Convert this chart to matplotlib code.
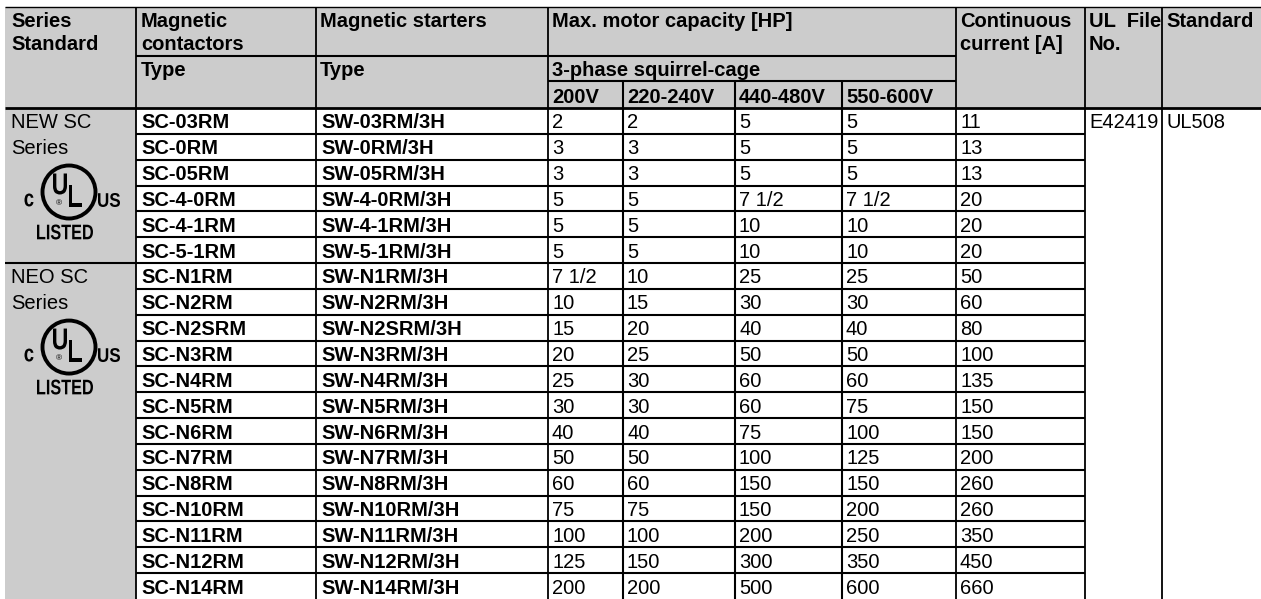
import matplotlib.pyplot as plt
from matplotlib.patches import Rectangle, Circle, PathPatch
from matplotlib.textpath import TextPath
from matplotlib.font_manager import FontProperties
from matplotlib.transforms import Affine2D

# Table data
contactors = ["SC-03RM", "SC-0RM", "SC-05RM", "SC-4-0RM", "SC-4-1RM", "SC-5-1RM",
              "SC-N1RM", "SC-N2RM", "SC-N2SRM", "SC-N3RM", "SC-N4RM", "SC-N5RM",
              "SC-N6RM", "SC-N7RM", "SC-N8RM", "SC-N10RM", "SC-N11RM", "SC-N12RM", "SC-N14RM"]
starters = ["SW-03RM/3H", "SW-0RM/3H", "SW-05RM/3H", "SW-4-0RM/3H", "SW-4-1RM/3H", "SW-5-1RM/3H",
            "SW-N1RM/3H", "SW-N2RM/3H", "SW-N2SRM/3H", "SW-N3RM/3H", "SW-N4RM/3H", "SW-N5RM/3H",
            "SW-N6RM/3H", "SW-N7RM/3H", "SW-N8RM/3H", "SW-N10RM/3H", "SW-N11RM/3H", "SW-N12RM/3H",
            "SW-N14RM/3H"]
hp_200 = ["2", "3", "3", "5", "5", "5", "7 1/2", "10", "15", "20", "25", "30", "40", "50", "60",
          "75", "100", "125", "200"]
hp_220 = ["2", "3", "3", "5", "5", "5", "10", "15", "20", "25", "30", "30", "40", "50", "60",
          "75", "100", "150", "200"]
hp_440 = ["5", "5", "5", "7 1/2", "10", "10", "25", "30", "40", "50", "60", "60", "75", "100",
          "150", "150", "200", "300", "500"]
hp_550 = ["5", "5", "5", "7 1/2", "10", "10", "25", "30", "40", "50", "60", "75", "100", "125",
          "150", "200", "250", "350", "600"]
current = ["11", "13", "13", "20", "20", "20", "50", "60", "80", "100", "135", "150", "150",
           "200", "260", "260", "350", "450", "660"]
series = [("NEW SC", "Series", 0), ("NEO SC", "Series", 6)]
ul_file = "E42419"
standard = "UL508"
volt_labels = ["200V", "220-240V", "440-480V", "550-600V"]

# layout (pixel units)
W, H = 1261, 599
x0 = 5
cols = [136, 316, 548, 623, 735, 842, 956, 1085, 1162]
top, hdr1, hdr2, hdr_bot = 7, 56, 81, 108
n = len(contactors)
rh = (H - hdr_bot) / n
gray = "#cccccc"
fs = 14.5
fam = ["Liberation Sans", "Arial", "DejaVu Sans"]

fig = plt.figure(figsize=(W / 100, H / 100), dpi=100)
ax = fig.add_axes([0, 0, 1, 1])
ax.set_xlim(0, W)
ax.set_ylim(H, 0)
ax.axis("off")

# backgrounds
ax.add_patch(Rectangle((x0, top), W - x0, hdr_bot - top, color=gray, lw=0))
ax.add_patch(Rectangle((x0, hdr_bot), cols[0] - x0, H - hdr_bot, color=gray, lw=0))

lw = 1.5
def hline(y, xa, xb, w=lw):
    ax.plot([xa, xb], [y, y], color="black", lw=w, solid_capstyle="butt")

def vline(x, ya, yb, w=lw):
    ax.plot([x, x], [ya, yb], color="black", lw=w, solid_capstyle="butt")

# header lines
hline(top, x0, W, 1.0)
for x in [cols[0], cols[1], cols[2], cols[6], cols[7], cols[8]]:
    vline(x, top, H, 1.3)
for x in cols[3:6]:
    vline(x, hdr2, H)
hline(hdr1, cols[0], cols[6])
hline(hdr2, cols[2], cols[6])
hline(hdr_bot, x0, W, 2.0)

# data row lines
for i in range(1, n):
    y = hdr_bot + i * rh
    hline(y, cols[0], cols[7])
hline(hdr_bot + 6 * rh, x0, cols[0])

def txt(x, y, s, bold=False, size=fs, **kw):
    ax.text(x, y, s, fontsize=size, fontweight="bold" if bold else "normal",
            family=fam, va="baseline", ha="left", **kw)

# header text
txt(11, 27, "Series", True)
txt(11, 50, "Standard", True)
txt(cols[0] + 5, 27, "Magnetic", True)
txt(cols[0] + 5, 50, "contactors", True)
txt(cols[0] + 5, 76, "Type", True)
txt(cols[1] + 4, 27, "Magnetic starters", True)
txt(cols[1] + 4, 76, "Type", True)
txt(cols[2] + 4, 27, "Max. motor capacity [HP]", True)
txt(cols[2] + 4, 76, "3-phase squirrel-cage", True)
for k, lab in enumerate(volt_labels):
    txt(cols[2 + k] + 4, 103, lab, True)
txt(cols[6] + 4, 27, "Continuous", True)
txt(cols[6] + 4, 50, "current [A]", True)
txt(cols[7] + 4, 27, "UL  File", True)
txt(cols[7] + 4, 50, "No.", True)
txt(cols[8] + 4, 27, "Standard", True)

# data text
for i in range(n):
    yb = hdr_bot + i * rh + rh / 2 + 7.5
    txt(cols[0] + 5, yb, contactors[i], True)
    txt(cols[1] + 5, yb, starters[i], True)
    for k, vals in enumerate([hp_200, hp_220, hp_440, hp_550, current]):
        txt(cols[2 + k] + 4, yb, vals[i])
yb0 = hdr_bot + rh / 2 + 7.5
txt(cols[7] + 4, yb0, ul_file)
txt(cols[8] + 4, yb0, standard)

# condensed bold letters for the UL mark, fitted into a box
bold_prop = FontProperties(family=fam, weight="bold")
def fit_text(s, cx, cy, w, h):
    tp = TextPath((0, 0), s, size=20, prop=bold_prop)
    bb = tp.get_extents()
    tr = (Affine2D().translate(-(bb.x0 + bb.x1) / 2, -(bb.y0 + bb.y1) / 2)
          .scale(w / bb.width, -h / bb.height).translate(cx, cy))
    ax.add_patch(PathPatch(tr.transform_path(tp), fc="black", lw=0))

# series labels with UL listed marks
for name, sub, r in series:
    ytop = hdr_bot + r * rh
    txt(11, ytop + rh / 2 + 7.5, name)
    txt(11, ytop + rh * 1.5 + 7.5, sub)
    cx, cy = 69, ytop + 84
    ax.add_patch(Circle((cx, cy), 26.5, fill=False, ec="black", lw=2.8))
    fit_text("U", cx - 9, cy - 8, 14, 21)
    fit_text("L", cx + 6, cy + 4, 13, 22)
    ax.text(cx - 10, cy + 12, "®", fontsize=6, family=fam, ha="center", va="center")
    fit_text("c", cx - 40, cy + 8, 9, 13)
    fit_text("US", cx + 40, cy + 8, 22, 14)
    fit_text("LISTED", cx - 4, cy + 40, 56, 15)

fig.savefig("out.png", dpi=100)
